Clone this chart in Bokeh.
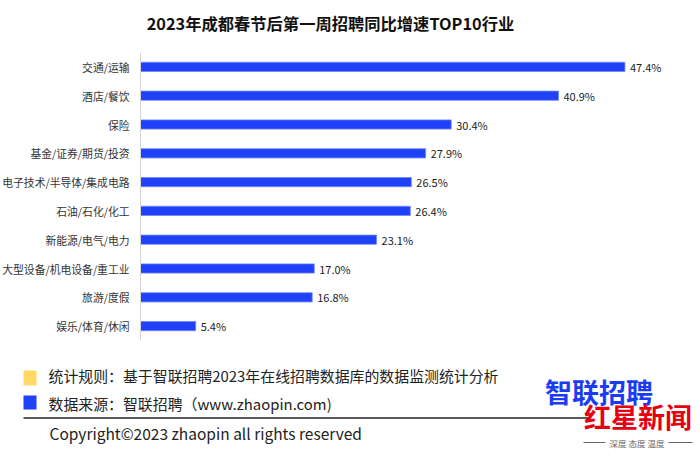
from bokeh.plotting import figure
from bokeh.models import Range1d, FactorRange, ColumnDataSource, Span
from bokeh.layouts import column
from bokeh.core.properties import value
from bokeh.embed import file_html
from bokeh.resources import INLINE

title_text = "2023年成都春节后第一周招聘同比增速TOP10行业"
industries = ["交通/运输", "酒店/餐饮", "保险", "基金/证券/期货/投资", "电子技术/半导体/集成电路",
              "石油/石化/化工", "新能源/电气/电力", "大型设备/机电设备/重工业", "旅游/度假", "娱乐/体育/休闲"]
growth = [47.4, 40.9, 30.4, 27.9, 26.5, 26.4, 23.1, 17.0, 16.8, 5.4]
value_labels = [f"{v:.1f}%" for v in growth]
legend_rule = "统计规则：基于智联招聘2023年在线招聘数据库的数据监测统计分析"
legend_source = "数据来源：智联招聘（www.zhaopin.com)"
copyright_text = "Copyright©2023 zhaopin all rights reserved"
logo_brand = "智联招聘"
logo_media = "红星新闻"
logo_slogan = "深度 态度 温度"

FONT = value("Noto Sans CJK SC")
W = 700
BAR = "#1F41F7"
PX_PER_PCT = 10.22
AXIS_X = 140


def blank(h):
    f = figure(width=W, height=h, x_range=Range1d(0, W), y_range=Range1d(h, 0),
               output_backend="svg", toolbar_location=None,
               x_axis_location=None, y_axis_location=None, min_border=0)
    f.outline_line_color = None
    f.xgrid.visible = False
    f.ygrid.visible = False
    return f


# header
head = blank(52)
head.text(x=[330], y=[22], text=[title_text], text_font=FONT, text_font_size="16.3px",
          text_font_style="bold", text_align="center", text_baseline="middle", text_color="#111111")

# main chart
src = ColumnDataSource(dict(cat=industries, val=growth, lab=value_labels, base=[0] * len(growth)))
p = figure(width=W, height=288, y_range=FactorRange(factors=industries[::-1], range_padding=0),
           x_range=Range1d(-AXIS_X / PX_PER_PCT, (W - AXIS_X) / PX_PER_PCT),
           output_backend="svg", toolbar_location=None,
           x_axis_location=None, y_axis_location=None, min_border=0)
p.outline_line_color = None
p.xgrid.visible = False
p.ygrid.visible = False
p.add_layout(Span(location=0, dimension="height", line_color="#d4d4d4", line_width=1))
p.hbar(y="cat", right="val", left="base", height=0.32, source=src, fill_color=BAR,
       line_color="#6f86ff", line_width=0.8)
p.text(x="val", y="cat", text="lab", source=src, x_offset=5, text_font=FONT,
       text_font_size="11px", text_baseline="middle", text_color="#222222")
p.text(x="base", y="cat", text="cat", source=src, x_offset=-11, text_font=FONT,
       text_font_size="10.8px", text_align="right", text_baseline="middle", text_color="#333333")

# footer
foot = blank(116)
foot.rect(x=[29.5], y=[37.5], width=13, height=15, fill_color="#FFD966", line_color=None)
foot.rect(x=[29.5], y=[62], width=13, height=14, fill_color=BAR, line_color=None)
foot.text(x=[48, 48], y=[35, 63], text=[legend_rule, legend_source], text_font=FONT,
          text_font_size="14.9px", text_baseline="middle", text_color="#222222")
foot.line(x=[23, 590], y=[77.5, 77.5], line_color="#222222", line_width=1.5)
foot.text(x=[49], y=[92], text=[copyright_text], text_font=FONT, text_font_size="15.5px",
          text_baseline="middle", text_color="#222222")
foot.text(x=[598.5], y=[51], text=[logo_brand], text_font=FONT, text_font_size="27px",
          text_font_style="bold", text_align="center", text_baseline="middle", text_color="#1A3CF5")
foot.text(x=[637.5], y=[76], text=[logo_media], text_font=FONT, text_font_size="27px",
          text_font_style="bold", text_align="center", text_baseline="middle", text_color="#E60012")
foot.text(x=[636.5], y=[102], text=[logo_slogan], text_font=FONT, text_font_size="8.5px",
          text_align="center", text_baseline="middle", text_color="#666666")
foot.segment(x0=[583, 668], y0=[102, 102], x1=[605, 692], y1=[102, 102], line_color="#666666", line_width=1)

layout = column(head, p, foot, spacing=0)
open("out.html", "w").write(file_html(layout, INLINE))
